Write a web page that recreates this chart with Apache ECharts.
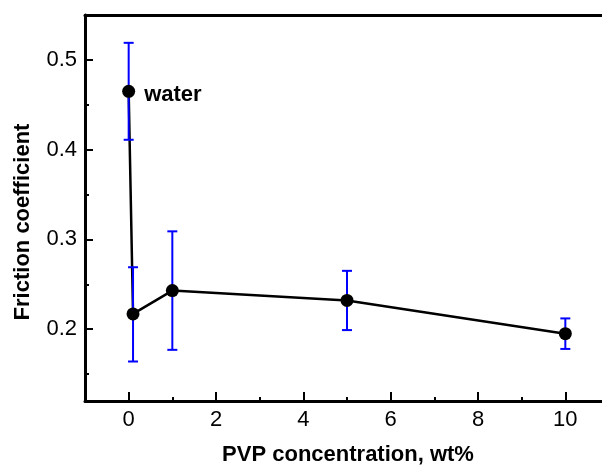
<!DOCTYPE html>
<html>
<head>
<meta charset="utf-8">
<script src="https://cdn.jsdelivr.net/npm/echarts@6/dist/echarts.min.js"></script>
<style>html,body{margin:0;padding:0;background:#fff;}#c{width:602px;height:467px;}</style>
</head>
<body>
<div id="c"></div>
<script>
// Data
var xVals = [0, 0.1, 1, 5, 10];
var yVals = [0.465, 0.217, 0.243, 0.232, 0.195];
var errTop = [0.519, 0.269, 0.309, 0.265, 0.212];
var errBottom = [0.411, 0.164, 0.177, 0.199, 0.178];
var xMajorTicks = [0, 2, 4, 6, 8, 10];
var xMinorTicks = [1, 3, 5, 7, 9];
var yMajorTicks = [0.2, 0.3, 0.4, 0.5];
var yMinorTicks = [0.15, 0.25, 0.35, 0.45];
var pointLabel = 'water';
var xName = 'PVP concentration, wt%';
var yName = 'Friction coefficient';

var FONT = 'Liberation Sans, Arial, Helvetica, sans-serif';
var chart = echarts.init(document.getElementById('c'), null, {renderer: 'canvas'});

var lineData = xVals.map(function (x, i) {
  var item = {value: [x, yVals[i]]};
  if (i === 0) {
    item.label = {
      show: true, formatter: pointLabel, position: 'right', distance: 9, offset: [0, 4],
      fontFamily: FONT, fontWeight: 'bold', fontSize: 22, color: '#000'
    };
  }
  return item;
});
var errData = xVals.map(function (x, i) { return [x, errBottom[i], errTop[i]]; });

var axisLineStyle = {color: '#000', width: 3};

chart.setOption({
  animation: false,
  backgroundColor: '#fff',
  grid: {left: 85, right: -7, top: 15, bottom: 66, containLabel: false, outerBoundsMode: 'none'},
  xAxis: [
    {
      type: 'value', position: 'bottom', min: -1, max: 11,
      axisLine: {show: true, onZero: false, lineStyle: axisLineStyle},
      axisTick: {show: true, inside: true, length: 9, customValues: xMajorTicks, lineStyle: {color: '#000', width: 2}},
      axisLabel: {show: true, customValues: xMajorTicks, margin: 8, fontFamily: FONT, fontSize: 22, color: '#000'},
      splitLine: {show: false}
    },
    {
      type: 'value', position: 'bottom', min: -1, max: 11,
      axisLine: {show: false, onZero: false},
      axisTick: {show: true, inside: true, length: 4, customValues: xMinorTicks, lineStyle: {color: '#000', width: 2}},
      axisLabel: {show: false},
      splitLine: {show: false}
    },
    {
      type: 'value', position: 'top', min: -1, max: 11,
      axisLine: {show: true, onZero: false, lineStyle: axisLineStyle},
      axisTick: {show: false}, axisLabel: {show: false}, splitLine: {show: false}
    }
  ],
  yAxis: [
    {
      type: 'value', position: 'left', min: 0.12, max: 0.55,
      axisLine: {show: true, onZero: false, lineStyle: axisLineStyle},
      axisTick: {show: true, inside: true, length: 8, customValues: yMajorTicks, lineStyle: {color: '#000', width: 2}},
      axisLabel: {show: true, customValues: yMajorTicks, margin: 8, fontFamily: FONT, fontSize: 22, color: '#000',
        formatter: function (v) { return v.toFixed(1); }},
      splitLine: {show: false}
    },
    {
      type: 'value', position: 'left', min: 0.12, max: 0.55,
      axisLine: {show: false, onZero: false},
      axisTick: {show: true, inside: true, length: 4, customValues: yMinorTicks, lineStyle: {color: '#000', width: 2}},
      axisLabel: {show: false},
      splitLine: {show: false}
    },
    {
      type: 'value', position: 'right', min: 0.12, max: 0.55,
      axisLine: {show: true, onZero: false, lineStyle: axisLineStyle},
      axisTick: {show: false}, axisLabel: {show: false}, splitLine: {show: false}
    }
  ],
  graphic: [
    {type: 'text', x: 23, y: 222, rotation: Math.PI / 2,
      style: {text: yName, font: 'bold 22px ' + FONT, fill: '#000', align: 'center', verticalAlign: 'middle'}},
    {type: 'text', x: 348, y: 455,
      style: {text: xName, font: 'bold 22px ' + FONT, fill: '#000', align: 'center', verticalAlign: 'middle'}}
  ],
  series: [
    {
      type: 'line', xAxisIndex: 0, yAxisIndex: 0, z: 2,
      data: lineData,
      symbol: 'none',
      lineStyle: {color: '#000', width: 2.5}
    },
    {
      type: 'custom', xAxisIndex: 0, yAxisIndex: 0, z: 3,
      data: errData,
      renderItem: function (params, api) {
        var x = api.value(0);
        var lo = api.coord([x, api.value(1)]);
        var hi = api.coord([x, api.value(2)]);
        var hw = 5;
        var st = {stroke: '#0000ff', lineWidth: 2, fill: null};
        return {
          type: 'group',
          children: [
            {type: 'line', shape: {x1: lo[0], y1: lo[1], x2: hi[0], y2: hi[1]}, style: st},
            {type: 'line', shape: {x1: lo[0] - hw, y1: lo[1], x2: lo[0] + hw, y2: lo[1]}, style: st},
            {type: 'line', shape: {x1: hi[0] - hw, y1: hi[1], x2: hi[0] + hw, y2: hi[1]}, style: st}
          ]
        };
      }
    },
    {
      type: 'scatter', xAxisIndex: 0, yAxisIndex: 0, z: 4,
      data: lineData,
      symbol: 'circle', symbolSize: 13,
      itemStyle: {color: '#000', borderWidth: 0, opacity: 1}
    }
  ]
});
</script>
</body>
</html>
